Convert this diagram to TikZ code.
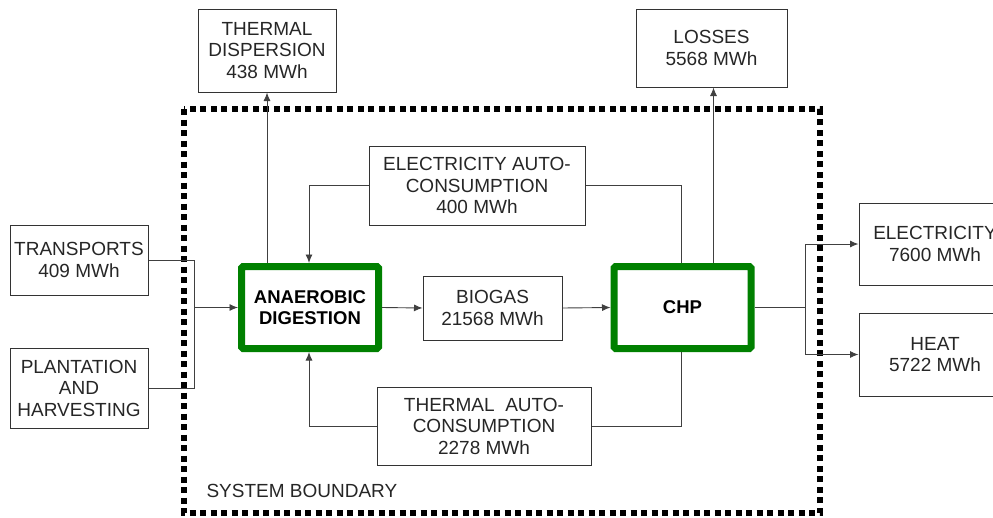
\documentclass[tikz,border=0pt]{standalone}
\usepackage{fontspec}
\setmainfont{Liberation Sans}
\usetikzlibrary{arrows.meta}

\begin{document}
\begin{tikzpicture}[
  x=1pt,
  y=-1pt,
  font=\fontsize{19}{21.5}\selectfont,
  block/.style={
    rectangle,
    draw=black!80,
    line width=1pt,
    align=center,
    inner sep=0pt,
    text=black!85
  },
  process/.style={
    rectangle,
    draw=green!50!black,
    line width=7pt,
    rounded corners=1.5pt,
    fill=white,
    align=center,
    inner sep=0pt,
    font=\fontsize{18.5}{21.5}\selectfont\bfseries,
    minimum width=137pt,
    minimum height=82pt
  },
  flow/.style={draw=black!75, line width=0.9pt},
  arrow/.style={flow, -{Latex[length=8.5pt,width=7pt]}},
  boundary/.style={
    draw=black,
    line width=5.5pt,
    dash pattern=on 6pt off 4.5pt
  }
]
\useasboundingbox (0,0) rectangle (993,517);
\clip (0,0) rectangle (993,517);

% ---------------------------------------------------------------------------
% System boundary
% ---------------------------------------------------------------------------
\draw[boundary] (184,109) rectangle (820,513);
\node[anchor=base west, text=black!85] (sysb) at (203,497) {SYSTEM BOUNDARY};

% ---------------------------------------------------------------------------
% Blocks
% ---------------------------------------------------------------------------
\node[block, minimum width=138pt, minimum height=83pt] (thdisp) at (267,50.5)
  {THERMAL\\DISPERSION\\438 MWh};
\node[block, minimum width=151pt, minimum height=78pt] (losses) at (711.5,48)
  {LOSSES\\5568 MWh};
\node[block, minimum width=138pt, minimum height=70pt] (transp) at (79,260)
  {TRANSPORTS\\409 MWh};
\node[block, minimum width=138pt, minimum height=80pt] (plant) at (79,388)
  {PLANTATION\\AND\\HARVESTING};
\node[process] (ad) at (310,307.5) {ANAEROBIC\\DIGESTION};
\node[block, minimum width=139pt, minimum height=64pt] (biogas) at (492.5,308)
  {BIOGAS\\21568 MWh};
\node[process] (chp) at (682.5,307.5) {CHP};
\node[block, minimum width=216pt, minimum height=79pt] (elecauto) at (477,185.5)
  {ELECTRICITY AUTO-\\CONSUMPTION\\400 MWh};
\node[block, minimum width=214pt, minimum height=78pt] (thauto) at (484,426)
  {THERMAL\ \ AUTO-\\CONSUMPTION\\2278 MWh};
\node[block, minimum width=152pt, minimum height=82pt] (elec) at (935,244)
  {ELECTRICITY\\7600 MWh};
\node[block, minimum width=152pt, minimum height=83pt] (heat) at (935,354.5)
  {HEAT\\5722 MWh};

% ---------------------------------------------------------------------------
% Connectors
% ---------------------------------------------------------------------------
\coordinate (inj) at (194,307.5);
\coordinate (outj) at (805,307.5);

\draw[flow] (transp.east) -| (inj);
\draw[flow] (plant.east) -| (inj);
\draw[arrow] (inj) -- (ad.west);

\draw[arrow] (ad.east) -- (biogas.west);
\draw[arrow] (biogas.east) -- (chp.west);

\draw[arrow] (thdisp.south |- ad.north) -- (thdisp.south);
\draw[arrow] ([xshift=2pt]losses.south |- chp.north) -- ([xshift=2pt]losses.south);

\draw[arrow] (elecauto.west) -| ([xshift=-1pt]ad.north);
\draw[flow] (elecauto.east) -| ([xshift=-1.5pt]chp.north);
\draw[arrow] (thauto.west) -| ([xshift=-1pt]ad.south);
\draw[flow] (thauto.east) -| ([xshift=-1.5pt]chp.south);

\draw[flow] (chp.east) -- (outj);
\draw[arrow] (outj) |- (elec.west);
\draw[arrow] (outj) |- (heat.west);
\end{tikzpicture}
\end{document}
